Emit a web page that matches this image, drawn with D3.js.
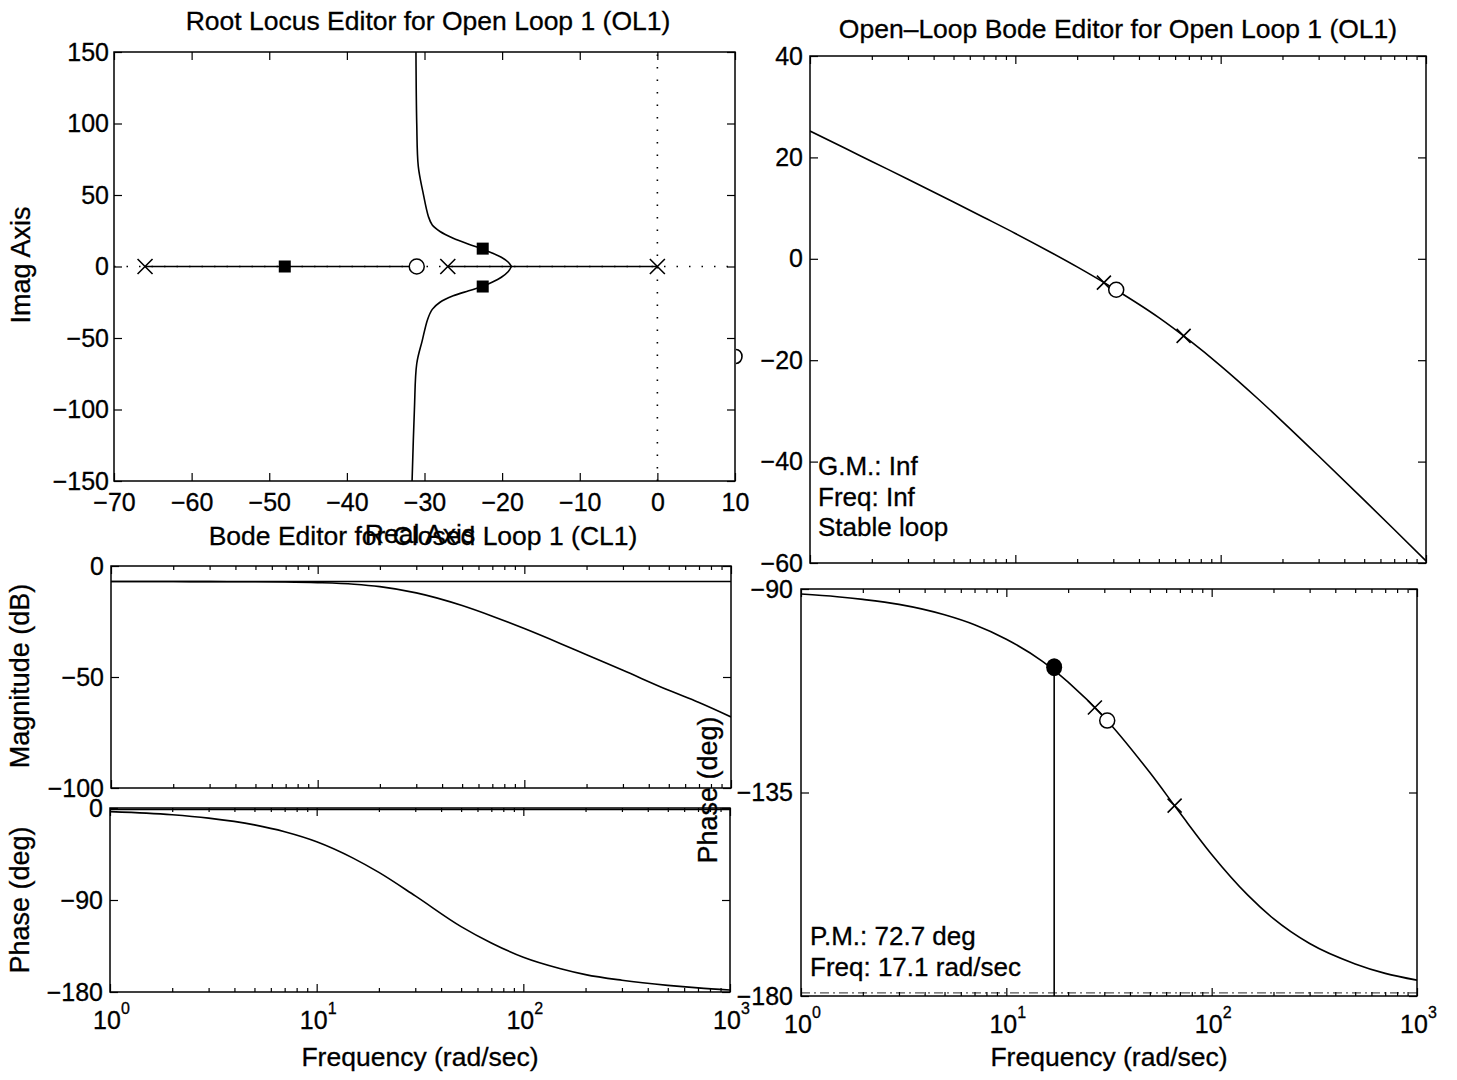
<!DOCTYPE html>
<html>
<head>
<meta charset="utf-8">
<script src="https://cdn.jsdelivr.net/npm/d3@7"></script>
<style>
  body { margin: 0; background: #fff; }
  svg { display: block; }
  text { font-family: "Liberation Sans", Arial, Helvetica, sans-serif; fill: #000; stroke: #000; stroke-width: 0.3; }
  .frame { fill: none; stroke: #000; stroke-width: 1.5; }
  .curve { fill: none; stroke: #000; stroke-width: 1.6; }
</style>
</head>
<body>
<svg id="chart" width="1457" height="1080"></svg>
<script>
'use strict';

// ---- root locus data ----
const rlXTicks = [-70, -60, -50, -40, -30, -20, -10, 0, 10];
const rlYTicks = [-150, -100, -50, 0, 50, 100, 150];
const olPoles = [-66, -27, 0];
const olZeros = [-31];
const clPolesRe = [-48, -22.5, -22.5];
const clPolesIm = [0, 12.5, -14];
const realSegments = [[-66, -31], [-27, 0]];
const locusUpper = [[-18.8, 0], [-19.2, 3], [-20.1, 6.5], [-21.3, 9.5], [-22.6, 12.3], [-24.3, 15.6],
  [-26.3, 19.8], [-28, 24.5], [-29, 29], [-29.5, 35], [-30.2, 52], [-30.8, 70], [-31, 100], [-31.1, 150]];
const locusLower = [[-18.8, 0], [-19.2, -3.5], [-20.1, -7.5], [-21.3, -11], [-22.6, -14], [-24.3, -17],
  [-26.3, -20.5], [-28, -25], [-29, -30], [-29.6, -37], [-30.3, -52], [-31, -68], [-31.3, -100], [-31.6, -150]];

// ---- frequency responses (rad/sec) ----
const freqs = [1, 1.5, 2, 3, 5, 7, 10, 15, 20, 30, 50, 70, 100, 150, 200, 300, 500, 700, 1000];
const olMagDb = [25.2, 21.7, 19.2, 15.7, 11.2, 8.2, 5.0, 1.2, -1.6, -5.8, -11.6, -16.0, -21.1, -27.4, -32.1, -38.9, -47.6, -53.4, -59.6];
const olPhaseDeg = [-91.1, -91.7, -92.3, -93.4, -95.7, -97.9, -101.1, -106.0, -110.6, -118.4, -130.6, -139.5, -148.7, -157.7, -162.9, -168.4, -172.9, -175.0, -176.5];
const clMagDb = [-7.0, -7.0, -7.0, -7.05, -7.1, -7.2, -7.5, -8.2, -9.3, -12.1, -17.8, -22.6, -28.2, -35.0, -40.0, -47.0, -56.0, -61.5, -68.0];
const clPhaseDeg = [-3.5, -5.0, -6.6, -9.9, -16.5, -23.2, -33.0, -49.0, -63.0, -86.0, -116.0, -132.0, -146.0, -157.0, -163.0, -168.5, -173.5, -176.0, -178.0];
const clRefMag = -7.0;
const clRefPhase = -1.5;

// compensator markers on the open-loop bode: 'x' pole, 'o' zero
const olMarkFreq = [27, 31, 66];
const olMarkType = ['x', 'o', 'x'];
const olMarkMag = [-4.7, -6.1, -15.2];
const olMarkPhase = [-116.2, -119.1, -137.9];
const pmFreq = 17.1;
const pmPhase = -107.3;

const magTicksOL = [-60, -40, -20, 0, 20, 40];
const phaseTicksOL = [-180, -135, -90];
const magTicksCL = [-100, -50, 0];
const phaseTicksCL = [-180, -90, 0];
const decades = [1, 10, 100, 1000];
const minorFreqs = [2, 3, 4, 5, 6, 7, 8, 9, 20, 30, 40, 50, 60, 70, 80, 90, 200, 300, 400, 500, 600, 700, 800, 900];

const FONT = '"Liberation Sans", Arial, Helvetica, sans-serif';
const svg = d3.select('#chart');
svg.append('rect').attr('width', 1457).attr('height', 1080).attr('fill', '#fff');
const defs = svg.append('defs');

function clip(id, b) {
  defs.append('clipPath').attr('id', id).append('rect')
    .attr('x', b.l).attr('y', b.t).attr('width', b.r - b.l).attr('height', b.b - b.t);
  return 'url(#' + id + ')';
}

function frame(b) {
  svg.append('rect').attr('class', 'frame')
    .attr('x', b.l).attr('y', b.t).attr('width', b.r - b.l).attr('height', b.b - b.t);
}

function styleAxis(g) {
  g.select('.domain').remove();
  g.attr('font-size', 25).attr('font-family', FONT);
  g.selectAll('line').attr('stroke', '#000').attr('stroke-width', 1.2);
  g.selectAll('text').attr('fill', '#000');
}

function xTicks(x, b, values, size, fmt, pad) {
  const gb = svg.append('g').attr('transform', `translate(0,${b.b})`)
    .call(d3.axisBottom(x).tickValues(values).tickSizeInner(-size).tickSizeOuter(0)
      .tickPadding(pad || 12).tickFormat(fmt || ''));
  const gt = svg.append('g').attr('transform', `translate(0,${b.t})`)
    .call(d3.axisTop(x).tickValues(values).tickSizeInner(-size).tickSizeOuter(0).tickFormat(''));
  styleAxis(gb); styleAxis(gt);
}

function yTicks(y, b, values, size, fmt, pad) {
  const gl = svg.append('g').attr('transform', `translate(${b.l},0)`)
    .call(d3.axisLeft(y).tickValues(values).tickSizeInner(-size).tickSizeOuter(0)
      .tickPadding(pad || 6).tickFormat(fmt || ''));
  const gr = svg.append('g').attr('transform', `translate(${b.r},0)`)
    .call(d3.axisRight(y).tickValues(values).tickSizeInner(-size).tickSizeOuter(0).tickFormat(''));
  styleAxis(gl); styleAxis(gr);
}

function logLabels(x, b) {
  decades.forEach((d, i) => {
    const px = x(d);
    svg.append('text').attr('x', px - 3).attr('y', b.b + 37)
      .attr('text-anchor', 'middle').attr('font-size', 25).text('10');
    svg.append('text').attr('x', px + 11).attr('y', b.b + 22)
      .attr('font-size', 16).text(String(i));
  });
}

function label(txt, x, y, opts) {
  return svg.append('text').attr('x', x).attr('y', y)
    .attr('font-size', (opts && opts.size) || 26.5)
    .attr('text-anchor', (opts && opts.anchor) || 'middle').text(txt);
}

function yLabel(txt, x, cy) {
  svg.append('text').attr('transform', `translate(${x},${cy}) rotate(-90)`)
    .attr('text-anchor', 'middle').attr('font-size', 27).text(txt);
}

function cross(g, cx, cy, h) {
  g.append('path').attr('class', 'curve').attr('stroke-width', 1.5)
    .attr('d', `M${cx - h},${cy - h}L${cx + h},${cy + h}M${cx - h},${cy + h}L${cx + h},${cy - h}`);
}

const fmtInt = d3.format('d');

// ================= Root locus =================
const rlBox = { l: 114, r: 735, t: 52, b: 481 };
const rx = d3.scaleLinear().domain([-70, 10]).range([rlBox.l, rlBox.r]);
const ry = d3.scaleLinear().domain([-150, 150]).range([rlBox.b, rlBox.t]);
const rl = svg.append('g').attr('clip-path', clip('rlclip', rlBox));

// dotted axes
rl.append('line').attr('x1', rx(-70)).attr('x2', rx(10)).attr('y1', ry(0)).attr('y2', ry(0))
  .attr('stroke', '#000').attr('stroke-width', 1.6).attr('stroke-dasharray', '1.5,11');
rl.append('line').attr('x1', rx(0)).attr('x2', rx(0)).attr('y1', ry(-150)).attr('y2', ry(150))
  .attr('stroke', '#000').attr('stroke-width', 1.6).attr('stroke-dasharray', '1.5,11');

realSegments.forEach(s => {
  rl.append('line').attr('class', 'curve')
    .attr('x1', rx(s[0])).attr('x2', rx(s[1])).attr('y1', ry(0)).attr('y2', ry(0));
});
const rlLine = d3.line().x(d => rx(d[0])).y(d => ry(d[1])).curve(d3.curveCatmullRom.alpha(0.5));
rl.append('path').attr('class', 'curve').attr('d', rlLine(locusUpper));
rl.append('path').attr('class', 'curve').attr('d', rlLine(locusLower));

olPoles.forEach(p => cross(rl, rx(p), ry(0), 7.5));
olZeros.forEach(z => rl.append('circle').attr('cx', rx(z)).attr('cy', ry(0)).attr('r', 7.5)
  .attr('fill', '#fff').attr('stroke', '#000').attr('stroke-width', 1.5));
clPolesRe.forEach((re, i) => rl.append('rect')
  .attr('x', rx(re) - 6).attr('y', ry(clPolesIm[i]) - 6).attr('width', 12).attr('height', 12).attr('fill', '#000'));

frame(rlBox);
xTicks(rx, rlBox, rlXTicks, 8, fmtInt, 12);
yTicks(ry, rlBox, rlYTicks, 8, fmtInt, 5);
// stray glyph fragment at the right edge
svg.append('path').attr('class', 'curve').attr('d', `M${rlBox.r + 1},${ry(-58)} a6,7 0 0 1 0,14`);

label('Root Locus Editor for Open Loop 1 (OL1)', 428, 30);
label('Real Axis', 420, 543);
yLabel('Imag Axis', 30, 265);

// ================= Closed-loop Bode =================
const cmBox = { l: 111, r: 731, t: 566, b: 788 };
const cpBox = { l: 110, r: 730, t: 808, b: 992 };
const cmx = d3.scaleLog().domain([1, 1000]).range([cmBox.l, cmBox.r]);
const cpx = d3.scaleLog().domain([1, 1000]).range([cpBox.l, cpBox.r]);
const cmy = d3.scaleLinear().domain([-100, 0]).range([cmBox.b, cmBox.t]);
const cpy = d3.scaleLinear().domain([-180, 0]).range([cpBox.b, cpBox.t]);

const cmG = svg.append('g').attr('clip-path', clip('cmclip', cmBox));
cmG.append('line').attr('class', 'curve').attr('x1', cmBox.l).attr('x2', cmBox.r)
  .attr('y1', cmy(clRefMag)).attr('y2', cmy(clRefMag));
cmG.append('path').attr('class', 'curve')
  .attr('d', d3.line().x((d, i) => cmx(freqs[i])).y(d => cmy(d)).curve(d3.curveMonotoneX)(clMagDb));

const cpG = svg.append('g').attr('clip-path', clip('cpclip', cpBox));
cpG.append('line').attr('class', 'curve').attr('stroke-width', 3).attr('x1', cpBox.l).attr('x2', cpBox.r)
  .attr('y1', cpy(clRefPhase)).attr('y2', cpy(clRefPhase));
cpG.append('path').attr('class', 'curve')
  .attr('d', d3.line().x((d, i) => cpx(freqs[i])).y(d => cpy(d)).curve(d3.curveMonotoneX)(clPhaseDeg));

frame(cmBox); frame(cpBox);
xTicks(cmx, cmBox, decades, 8); xTicks(cmx, cmBox, minorFreqs, 4);
xTicks(cpx, cpBox, decades, 8); xTicks(cpx, cpBox, minorFreqs, 4);
yTicks(cmy, cmBox, magTicksCL, 8, fmtInt, 7);
yTicks(cpy, cpBox, phaseTicksCL, 8, fmtInt, 7);
logLabels(cpx, cpBox);

label('Bode Editor for Closed Loop 1 (CL1)', 423, 545);
yLabel('Magnitude (dB)', 29, 676);
yLabel('Phase (deg)', 29, 900);
label('Frequency (rad/sec)', 420, 1066);

// ================= Open-loop Bode =================
const omBox = { l: 810, r: 1426, t: 56, b: 563 };
const opBox = { l: 801, r: 1417, t: 589, b: 996 };
const omx = d3.scaleLog().domain([1, 1000]).range([omBox.l, omBox.r]);
const opx = d3.scaleLog().domain([1, 1000]).range([opBox.l, opBox.r]);
const omy = d3.scaleLinear().domain([-60, 40]).range([omBox.b, omBox.t]);
const opy = d3.scaleLinear().domain([-180, -90]).range([opBox.b, opBox.t]);

const omG = svg.append('g').attr('clip-path', clip('omclip', omBox));
omG.append('path').attr('class', 'curve')
  .attr('d', d3.line().x((d, i) => omx(freqs[i])).y(d => omy(d)).curve(d3.curveMonotoneX)(olMagDb));
olMarkFreq.forEach((f, i) => {
  if (olMarkType[i] === 'x') cross(omG, omx(f), omy(olMarkMag[i]), 7);
  else omG.append('circle').attr('cx', omx(f)).attr('cy', omy(olMarkMag[i])).attr('r', 7.5)
    .attr('fill', '#fff').attr('stroke', '#000').attr('stroke-width', 1.5);
});

const opG = svg.append('g').attr('clip-path', clip('opclip', opBox));
opG.append('line').attr('x1', opBox.l).attr('x2', opBox.r)
  .attr('y1', opy(-179.3)).attr('y2', opy(-179.3))
  .attr('stroke', '#555').attr('stroke-width', 1.4).attr('stroke-dasharray', '9,4,2,4');
opG.append('path').attr('class', 'curve')
  .attr('d', d3.line().x((d, i) => opx(freqs[i])).y(d => opy(d)).curve(d3.curveMonotoneX)(olPhaseDeg));
opG.append('line').attr('class', 'curve')
  .attr('x1', opx(pmFreq)).attr('x2', opx(pmFreq)).attr('y1', opy(pmPhase)).attr('y2', opy(-180));
opG.append('ellipse').attr('cx', opx(pmFreq)).attr('cy', opy(pmPhase)).attr('rx', 8).attr('ry', 9).attr('fill', '#000');
olMarkFreq.forEach((f, i) => {
  if (olMarkType[i] === 'x') cross(opG, opx(f), opy(olMarkPhase[i]), 7);
  else opG.append('circle').attr('cx', opx(f)).attr('cy', opy(olMarkPhase[i])).attr('r', 7.5)
    .attr('fill', '#fff').attr('stroke', '#000').attr('stroke-width', 1.5);
});

frame(omBox); frame(opBox);
xTicks(omx, omBox, decades, 8); xTicks(omx, omBox, minorFreqs, 4);
xTicks(opx, opBox, decades, 8); xTicks(opx, opBox, minorFreqs, 4);
yTicks(omy, omBox, magTicksOL, 8, fmtInt, 7);
yTicks(opy, opBox, phaseTicksOL, 8, fmtInt, 8);
logLabels(opx, opBox);

label('Open–Loop Bode Editor for Open Loop 1 (OL1)', 1118, 38);
yLabel('Phase (deg)', 717, 790);
label('Frequency (rad/sec)', 1109, 1066);

label('G.M.: Inf', 818, 475, { anchor: 'start', size: 26 });
label('Freq: Inf', 818, 506, { anchor: 'start', size: 26 });
label('Stable loop', 818, 536, { anchor: 'start', size: 26 });
label('P.M.: 72.7 deg', 810, 945, { anchor: 'start', size: 26 });
label('Freq: 17.1 rad/sec', 810, 976, { anchor: 'start', size: 26 });
</script>
</body>
</html>
